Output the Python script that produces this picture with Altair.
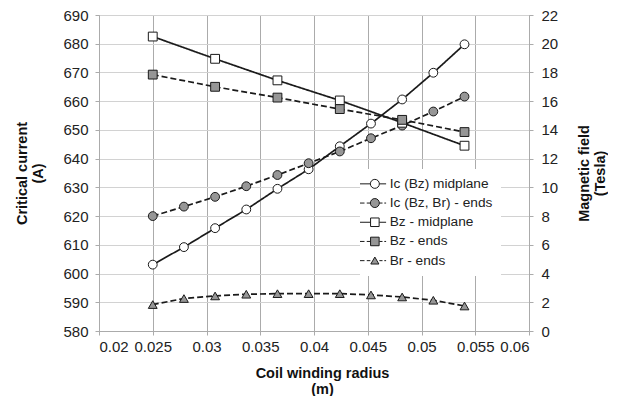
import altair as alt
import pandas as pd

# ---- data ----
x_ic = [0.025, 0.0279, 0.0308, 0.0337, 0.0366, 0.0395, 0.0424, 0.0453, 0.0482, 0.0511, 0.054]
ic_mid = [603.1, 609.2, 615.8, 622.3, 629.5, 636.3, 644.3, 652.2, 660.6, 669.9, 679.8]
ic_ends = [620.0, 623.3, 626.7, 630.4, 634.3, 638.4, 642.5, 647.1, 651.5, 656.4, 661.6]

x_bz = [0.025, 0.0308, 0.0366, 0.0424, 0.0482, 0.054]
bz_mid = [20.5, 18.95, 17.45, 16.05, 14.5, 12.9]
bz_ends = [17.85, 17.0, 16.25, 15.45, 14.7, 13.85]

x_br = [0.025, 0.0279, 0.0308, 0.0337, 0.0366, 0.0395, 0.0424, 0.0453, 0.0482, 0.0511, 0.054]
br_ends = [1.84, 2.26, 2.44, 2.56, 2.6, 2.6, 2.6, 2.51, 2.37, 2.14, 1.74]

series_names = ["Ic (Bz) midplane", "Ic (Bz, Br) - ends", "Bz - midplane", "Bz - ends", "Br - ends"]
x_ticks = [0.02, 0.025, 0.03, 0.035, 0.04, 0.045, 0.05, 0.055, 0.06]
left_ticks = list(range(580, 691, 10))
right_ticks = list(range(0, 23, 2))

def long(xs, ys, name):
    return pd.DataFrame({"x": xs, "value": ys, "series": name})

ic_df = pd.concat([long(x_ic, ic_mid, series_names[0]), long(x_ic, ic_ends, series_names[1])])
b_df = pd.concat([long(x_bz, bz_mid, series_names[2]), long(x_bz, bz_ends, series_names[3]),
                  long(x_br, br_ends, series_names[4])])
all_df = pd.concat([ic_df, b_df])

GREY = "#969696"
INK = "#1a1a1a"
FONT = "Liberation Sans"

dash_scale = alt.Scale(domain=series_names, range=[[1, 0], [6, 3], [1, 0], [6, 3], [6, 3]])
shape_scale = alt.Scale(domain=series_names, range=["circle", "circle", "square", "square", "triangle-up"])
fill_scale = alt.Scale(domain=series_names, range=["white", GREY, "white", GREY, GREY])

x_enc = alt.X("x:Q", scale=alt.Scale(domain=[0.02, 0.06], nice=False),
              axis=alt.Axis(values=x_ticks, format=".3~f", title=["Coil winding radius", "(m)"],
                            titleX=223, gridColor="#ababab", tickColor="#ababab",
                            labelPadding=4, titlePadding=12))

y_left = alt.Y("value:Q", scale=alt.Scale(domain=[580, 690], nice=False, zero=False),
               axis=alt.Axis(values=left_ticks, title=["Critical current", "(A)"], orient="left",
                             labelPadding=7, titlePadding=17, gridColor="#d2d2d2"))
y_right = alt.Y("value:Q", scale=alt.Scale(domain=[0, 22], nice=False),
                axis=alt.Axis(values=right_ticks, title=["Magnetic field", "(Tesla)"], orient="right",
                              grid=False, titleAngle=270, labelPadding=8, titlePadding=18))

def lines(df, y):
    return alt.Chart(df).mark_line(color=INK, strokeWidth=1.7).encode(
        x=x_enc, y=y, strokeDash=alt.StrokeDash("series:N", scale=dash_scale, legend=None),
        detail="series:N")

def points(df, y):
    return alt.Chart(df).mark_point(filled=True, size=78, stroke=INK, strokeWidth=1, opacity=1).encode(
        x=x_enc, y=y,
        shape=alt.Shape("series:N", scale=shape_scale, legend=None),
        fill=alt.Fill("series:N", scale=fill_scale, legend=None))

left = alt.layer(lines(ic_df, y_left), points(ic_df, y_left))
right = alt.layer(lines(b_df, y_right), points(b_df, y_right))

# legend-only layer with symbols showing a line stub plus marker
circ = "M1,0A1,1,0,1,1,-1,0A1,1,0,1,1,1,0Z"
sq = "M-0.95,-0.95H0.95V0.95H-0.95Z"
tri = "M0,-0.8L0.9,0.75H-0.9Z"
solid = "M-3.3,0H-1M1,0H2.5"
dashed = "M-3.3,0H-2.3M-1.8,0H-1M1,0H1.7M2.1,0H2.5"
legend_paths = [solid + circ, dashed + circ, solid + sq, dashed + sq, dashed + tri]

leg_kw = dict(title=None, orient="none", legendX=261, legendY=154)

legend_layer = alt.Chart(all_df).mark_point(filled=True, size=81, strokeWidth=1, opacity=0).encode(
    x=x_enc,
    y=alt.Y("value:Q", axis=None),
    shape=alt.Shape("series:N", scale=alt.Scale(domain=series_names, range=legend_paths),
                    legend=alt.Legend(fillColor="white", padding=8, symbolSize=81,
                                      symbolStrokeWidth=1, symbolOpacity=1,
                                      labelOffset=8, rowPadding=4.2, labelFontSize=13.7,
                                      labelFont=FONT, labelColor="#222", **leg_kw)),
    fill=alt.Fill("series:N", scale=alt.Scale(domain=series_names, range=["white", GREY, "white", GREY, GREY]),
                  legend=alt.Legend(**leg_kw)),
    stroke=alt.Stroke("series:N", scale=alt.Scale(domain=series_names, range=[INK] * 5),
                      legend=alt.Legend(**leg_kw)),
)

chart = alt.layer(left, right, legend_layer).resolve_scale(
    y="independent", shape="independent", fill="independent", strokeDash="independent",
    stroke="independent"
).properties(width=430, height=316, padding={"left": 6, "top": 0, "right": 0, "bottom": 0}
).configure_view(stroke="#ababab").configure_axis(
    labelFont=FONT, labelFontSize=15, labelColor="#222",
    titleFont=FONT, titleFontSize=14.5, titleFontWeight="bold", titleColor="#111", titleLineHeight=16,
    domainColor="#ababab", tickColor="#ababab", tickSize=4, gridColor="#d2d2d2",
).configure_legend(labelFont=FONT)

chart.save("out.html", embed_options={"renderer": "svg", "actions": False})
